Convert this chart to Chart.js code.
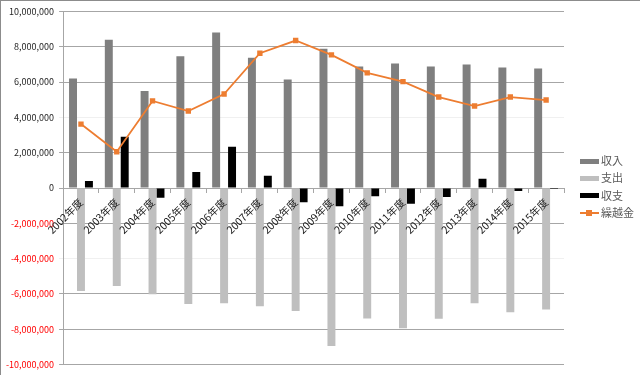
<!DOCTYPE html>
<html lang="ja">
<head>
<meta charset="utf-8">
<title>収支推移</title>
<script src="https://cdn.jsdelivr.net/npm/chart.js"></script>
<style>
  html, body { margin: 0; padding: 0; background: #fff; }
  .wrap { width: 640px; height: 375px; box-sizing: border-box; border: 1px solid #8c8c8c; border-right: 0; border-bottom: 0; position: relative; }
  /* 凡例 */
  #legend { position: absolute; left: 579px; top: 151px; font-family: "Noto Sans CJK JP", sans-serif; font-size: 11px; color: #595959; }
  #legend .item { height: 17.3px; line-height: 17px; white-space: nowrap; }
  #legend .sw { display: inline-block; position: relative; width: 19px; height: 6px; vertical-align: middle; margin-right: 2px; margin-top: -2px; }
  #legend .sw .ln { position: absolute; left: 0; right: 0; top: 2px; height: 2px; }
  #legend .sw .mk { position: absolute; left: 6px; top: 0; width: 6px; height: 6px; }
</style>
</head>
<body>
<div class="wrap"><canvas id="myChart"></canvas><div id="legend"></div></div>
<script>
// データ
var years = ['2002年度', '2003年度', '2004年度', '2005年度', '2006年度', '2007年度', '2008年度',
             '2009年度', '2010年度', '2011年度', '2012年度', '2013年度', '2014年度', '2015年度'];
var income = [6200000, 8390000, 5490000, 7460000, 8810000, 7370000, 6140000,
              7880000, 6880000, 7050000, 6880000, 6990000, 6820000, 6760000];
var expense = [-5830000, -5550000, -6020000, -6570000, -6520000, -6690000, -6970000,
               -8940000, -7390000, -7940000, -7410000, -6520000, -7030000, -6880000];
var balance = [400000, 2900000, -550000, 910000, 2330000, 700000, -800000,
               -1040000, -470000, -890000, -510000, 530000, -170000, -60000];
var carryover = [3620000, 2050000, 4930000, 4360000, 5320000, 7630000, 8350000,
                 7540000, 6520000, 6020000, 5150000, 4640000, 5150000, 4980000];
var seriesNames = ['収入', '支出', '収支', '繰越金'];
var seriesColors = ['#7f7f7f', '#bfbfbf', '#000000', '#ed7d31'];

var FONT = '"Noto Sans CJK JP", "Noto Sans", sans-serif';
var GRID = '#a6a6a6';

var ctx = document.getElementById('myChart').getContext('2d');
var myChart = new Chart(ctx, {
  type: 'bar',
  data: {
    labels: years,
    datasets: [
      { label: seriesNames[0], data: income, backgroundColor: seriesColors[0], order: 1 },
      { label: seriesNames[1], data: expense, backgroundColor: seriesColors[1], order: 1 },
      { label: seriesNames[2], data: balance, backgroundColor: seriesColors[2], order: 1 },
      {
        type: 'line', label: seriesNames[3], data: carryover, order: 0,
        borderColor: seriesColors[3], backgroundColor: seriesColors[3], borderWidth: 1.8,
        pointStyle: 'rect', pointRadius: 3.8, pointBorderWidth: 0,
        tension: 0, fill: false
      }
    ]
  },
  options: {
    responsive: true,
    maintainAspectRatio: false,
    animation: false,
    layout: { padding: { top: 5, bottom: 6, left: 0, right: 76 } },
    datasets: {
      bar: { categoryPercentage: 0.667, barPercentage: 1 }
    },
    scales: {
      x: {
        position: { y: 0 },
        grid: { display: true, drawOnChartArea: false, drawTicks: true, tickLength: 4, color: GRID, offset: true },
        border: { color: GRID },
        ticks: {
          z: 1, // ラベルを棒の上に描く
          minRotation: 45, maxRotation: 45, autoSkip: false, padding: 4,
          color: '#1a1a1a', font: { family: FONT, size: 10.5 }
        }
      },
      y: {
        min: -10000000, max: 10000000,
        grid: {
          color: function (c) {
            var v = c.tick ? c.tick.value : 0;
            if (v === 4000000 || v === -4000000) return '#f0f0f0';
            return GRID;
          },
          tickLength: 4
        },
        border: { color: GRID },
        ticks: {
          stepSize: 2000000, padding: 5,
          color: function (c) { return c.tick.value < 0 ? '#ff0000' : '#262626'; },
          font: { family: FONT, size: 9 },
          callback: function (v) { return v.toLocaleString('en-US'); }
        }
      }
    },
    plugins: {
      tooltip: { enabled: false },
      legend: { display: false }
    }
  }
});

// HTML の凡例
var legendBox = document.getElementById('legend');
seriesNames.forEach(function (name, i) {
  var row = document.createElement('div');
  row.className = 'item';
  var sw = document.createElement('span');
  sw.className = 'sw';
  if (i === 3) {
    sw.innerHTML = '<span class="ln"></span><span class="mk"></span>';
    sw.children[0].style.background = seriesColors[i];
    sw.children[1].style.background = seriesColors[i];
  } else {
    sw.style.background = seriesColors[i];
    sw.style.height = '5px';
  }
  row.appendChild(sw);
  row.appendChild(document.createTextNode(name));
  legendBox.appendChild(row);
});
</script>
</body>
</html>
